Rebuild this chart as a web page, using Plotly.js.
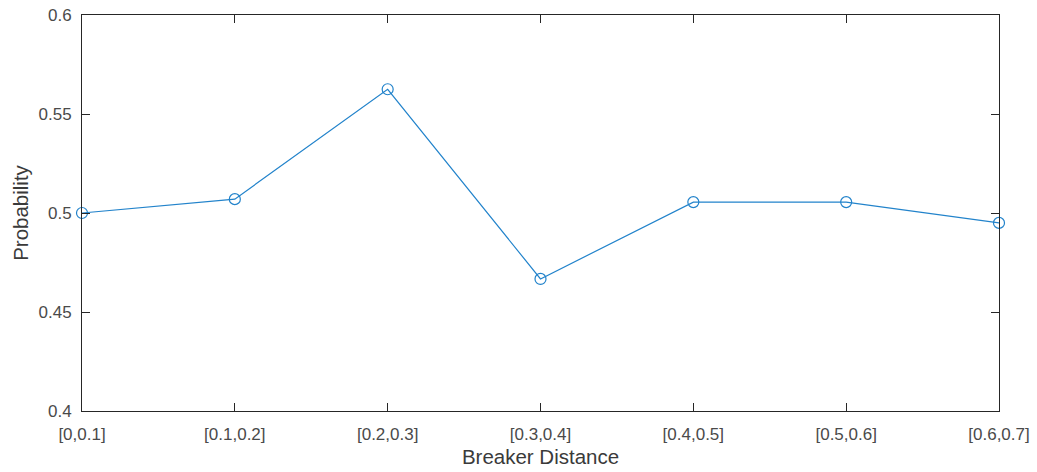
<!DOCTYPE html>
<html>
<head>
<meta charset="utf-8">
<script src="https://cdn.plot.ly/plotly-3.0.1.min.js"></script>
<style>html,body{margin:0;padding:0;background:#fff;}#chart{width:1037px;height:472px;}</style>
</head>
<body>
<div id="chart"></div>
<script>
const categories = ["[0,0.1]", "[0.1,0.2]", "[0.2,0.3]", "[0.3,0.4]", "[0.4,0.5]", "[0.5,0.6]", "[0.6,0.7]"];
const probability = [0.5000, 0.5070, 0.5625, 0.4667, 0.5055, 0.5055, 0.4950];
const yTicks = [0.4, 0.45, 0.5, 0.55, 0.6];
const yTickLabels = ["0.4", "0.45", "0.5", "0.55", "0.6"];

const lineColor = '#2283cb';
const trace = {
  x: categories,
  y: probability,
  type: 'scatter',
  mode: 'lines+markers',
  cliponaxis: false,
  line: {color: lineColor, width: 1.2},
  marker: {symbol: 'circle-open', size: 11, color: lineColor, line: {width: 1.2, color: lineColor}},
  hoverinfo: 'skip'
};

const fam = 'Liberation Sans, Arial, sans-serif';
const axisFont = {family: fam, size: 17, color: '#4a4a4a'};
const titleFont = {family: fam, size: 20.5, color: '#3a3a3a'};
const layout = {
  width: 1037, height: 472,
  margin: {l: 82, r: 38, t: 15, b: 61},
  paper_bgcolor: '#fff', plot_bgcolor: '#fff',
  showlegend: false,
  font: {family: fam, color: '#4a4a4a'},
  xaxis: {
    type: 'category',
    range: [0, categories.length - 1],
    showline: true, linecolor: '#262626', linewidth: 1, mirror: 'ticks',
    ticks: 'inside', ticklen: 8, tickcolor: '#262626', tickwidth: 1,
    showgrid: false, zeroline: false,
    tickfont: axisFont,
    ticklabelstandoff: 8,
    title: {text: 'Breaker Distance', font: titleFont, standoff: 6}
  },
  yaxis: {
    range: [0.4, 0.6],
    tickvals: yTicks, ticktext: yTickLabels,
    showline: true, linecolor: '#262626', linewidth: 1, mirror: 'ticks',
    ticks: 'inside', ticklen: 8, tickcolor: '#262626', tickwidth: 1,
    showgrid: false, zeroline: false,
    tickfont: axisFont,
    ticklabelstandoff: 6,
    title: {text: 'Probability', font: titleFont, standoff: 4}
  }
};

Plotly.newPlot('chart', [trace], layout, {staticPlot: true, displayModeBar: false});
</script>
</body>
</html>
